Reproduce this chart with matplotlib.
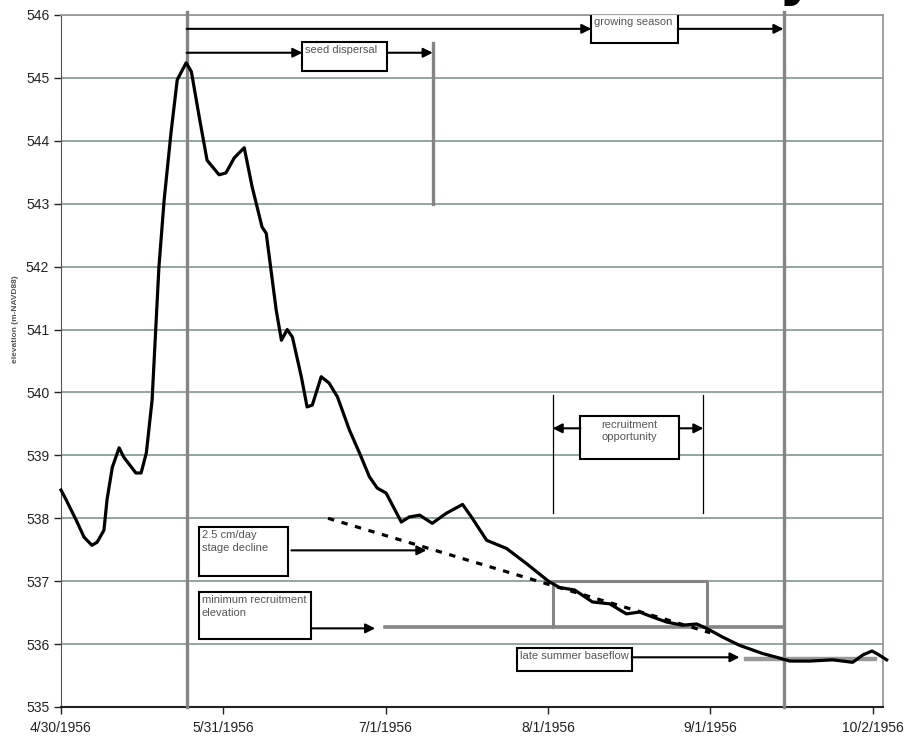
import matplotlib
matplotlib.use("Agg")
import matplotlib.pyplot as plt
from matplotlib.patches import Rectangle

# stage record, x = days after 4/30/1956
days = [0, 1.0, 2.9, 4.4, 5.9, 6.9, 8.2, 8.8, 9.8, 11.1, 12.0, 14.3, 15.3, 16.3,
        17.4, 18.7, 19.7, 21.0, 22.2, 23.9, 24.9, 26.4, 27.9, 30.2, 31.5, 33.1,
        35.0, 36.5, 38.4, 39.2, 41.1, 42.1, 43.2, 44.2, 45.9, 47.0, 48.0, 49.7,
        51.2, 52.8, 55.1, 57.0, 58.9, 60.4, 62.1, 65.0, 66.5, 68.5, 70.9, 73.6,
        76.7, 78.4, 81.3, 85.1, 88.9, 93.1, 95.2, 98.1, 101.5, 104.8, 108.0,
        110.5, 113.0, 115.7, 118.7, 121.4, 123.3, 126.4, 129.6, 134.0, 136.7,
        139.2, 143.0, 147.4, 151.2, 153.2, 154.9, 156.0, 157.7]
elevation = [538.45, 538.29, 537.97, 537.70, 537.57, 537.62, 537.81, 538.30,
             538.81, 539.12, 538.97, 538.72, 538.72, 539.04, 539.88, 541.99,
             543.06, 544.12, 544.97, 545.24, 545.10, 544.38, 543.69, 543.46,
             543.49, 543.73, 543.89, 543.27, 542.63, 542.53, 541.31, 540.83,
             541.00, 540.88, 540.25, 539.77, 539.80, 540.25, 540.15, 539.93,
             539.40, 539.04, 538.66, 538.48, 538.40, 537.94, 538.02, 538.05,
             537.92, 538.08, 538.22, 538.02, 537.65, 537.52, 537.28, 537.00,
             536.90, 536.86, 536.67, 536.64, 536.48, 536.51, 536.43, 536.35,
             536.30, 536.32, 536.25, 536.11, 535.98, 535.85, 535.79, 535.73,
             535.73, 535.75, 535.71, 535.83, 535.89, 535.84, 535.75]

tick_days = [0, 31, 62, 93, 124, 155]
tick_labels = ["4/30/1956", "5/31/1956", "7/1/1956", "8/1/1956", "9/1/1956", "10/2/1956"]

season_start = 24     # 5/24
season_end = 138      # 9/15
seed_end = 71
recruit_start = 93.9
recruit_end = 123.3
recruit_top = 537.0
min_recruit_elev = 536.27
min_recruit_from = 61.8
decline_days = [51, 124]
decline_elev = [538.0, 536.18]
baseflow_days = [130.8, 155.4]
baseflow_elev = 535.76

plt.rcParams['font.family'] = ['Liberation Sans', 'DejaVu Sans']

fig = plt.figure(figsize=(9.06, 7.40), dpi=100)
ax = fig.add_axes([61 / 906, 33 / 740, 822 / 906, 692 / 740])

ax.set_xlim(0, 157)
ax.set_ylim(535, 546)
ax.set_yticks(range(535, 547))
ax.set_xticks(tick_days)
ax.set_xticklabels(tick_labels)
ax.tick_params(labelsize=10, colors='#222222', length=5, width=1)
ax.tick_params(axis='x', pad=5)
ax.yaxis.grid(True, color='#8a9e98', lw=1.3)
ax.set_axisbelow(True)
for side in ['top', 'right']:
    ax.spines[side].set_color('#9a9a9a')
    ax.spines[side].set_linewidth(1.3)
ax.spines['left'].set_color('#555555')
ax.spines['bottom'].set_color('#222222')
ax.spines['bottom'].set_linewidth(1.5)

ax.set_ylabel("elevation (m-NAVD88)", fontsize=6, fontweight='bold', color='#555555')
ax.yaxis.set_label_coords(-0.051, 0.56)

gray = '#858585'
# season limits and seed dispersal end
ax.plot([season_start, season_start], [535, 546.05], color=gray, lw=2.4, clip_on=False, zorder=3)
ax.plot([season_end, season_end], [535, 546.05], color=gray, lw=2.4, clip_on=False, zorder=3)
ax.plot([seed_end, seed_end], [543.0, 545.55], color=gray, lw=2.4, zorder=3)

# recruitment window
ax.plot([recruit_start, recruit_start, recruit_end, recruit_end],
        [min_recruit_elev, recruit_top, recruit_top, min_recruit_elev], color=gray, lw=2.2, zorder=3)
ax.plot([min_recruit_from, season_end], [min_recruit_elev, min_recruit_elev], color=gray, lw=2.6, zorder=3)
ax.plot(baseflow_days, [baseflow_elev, baseflow_elev], color='#9a9a9a', lw=3.2, zorder=3)
ax.plot([recruit_start, recruit_start], [538.08, 539.96], color='black', lw=0.9)
ax.plot([recruit_end - 0.6, recruit_end - 0.6], [538.08, 539.96], color='black', lw=0.9)

ax.plot(decline_days, decline_elev, color='black', lw=2.3, ls=(0, (2, 2.4)), zorder=4)
ax.plot(days, elevation, color='black', lw=2.3, zorder=5, clip_on=False)


def arrow(x0, x1, y):
    ax.annotate('', xy=(x1, y), xytext=(x0, y),
                arrowprops=dict(arrowstyle='-|>', color='black', lw=1.5,
                                mutation_scale=14, shrinkA=0, shrinkB=0), zorder=6)


def box(x0, x1, y0, y1):
    ax.add_patch(Rectangle((x0, y0), x1 - x0, y1 - y0, fc='white', ec='black', lw=1.5, zorder=6))


txt = dict(fontsize=8, color='#555555', va='top', zorder=7, linespacing=1.35)

# growing season
arrow(season_start, 101.3, 545.78)
box(101.3, 117.8, 545.55, 546.02)
ax.text(101.8, 545.97, "growing season", **txt)
arrow(117.8, season_end, 545.78)

# seed dispersal
arrow(season_start, 46.1, 545.40)
box(46.1, 62.3, 545.11, 545.57)
ax.text(46.6, 545.52, "seed dispersal", **txt)
arrow(62.3, seed_end, 545.40)

# recruitment opportunity
box(99.2, 118.0, 538.94, 539.62)
ax.text(108.6, 539.57, "recruitment\nopportunity", ha='center', **txt)
arrow(99.2, recruit_start, 539.43)
arrow(118.0, recruit_end - 0.6, 539.43)

# stage decline
box(26.4, 43.4, 537.08, 537.86)
ax.text(26.9, 537.81, "2.5 cm/day\nstage decline", **txt)
arrow(44.0, 69.8, 537.49)

# minimum recruitment elevation
box(26.4, 47.8, 536.08, 536.83)
ax.text(26.9, 536.78, "minimum recruitment\nelevation", **txt)
arrow(47.8, 60.0, 536.25)

# late summer baseflow
box(87.0, 109.0, 535.57, 535.94)
ax.text(87.6, 535.89, "late summer baseflow", **txt)
arrow(109.0, 129.6, 535.79)

# cut-off title remnant at the top edge
fig.text(796 / 906, 1.008, "y", fontsize=40, fontweight='bold', ha='center', va='baseline',
         family='DejaVu Sans')

fig.savefig("out.png", dpi=100)
